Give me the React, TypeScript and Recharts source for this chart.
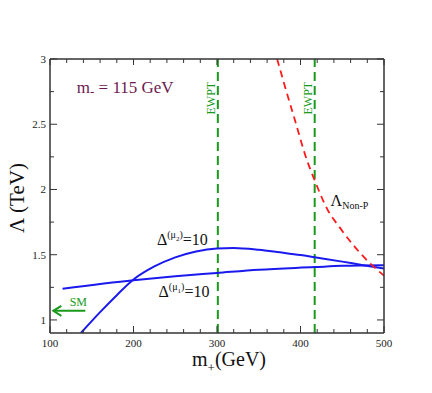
import { ComposedChart, Line, XAxis, YAxis, ReferenceLine, ReferenceDot } from "recharts";

// axis ticks
const xTicks = [100, 120, 140, 160, 180, 200, 220, 240, 260, 280, 300, 320, 340, 360, 380, 400, 420, 440, 460, 480, 500];
const xMajors = [100, 200, 300, 400, 500];
const yTicks = [1, 1.25, 1.5, 1.75, 2, 2.25, 2.5, 2.75, 3];
const yMajors = [1, 1.5, 2, 2.5, 3];

// Delta^(mu1) = 10
const deltaMu1 = [
  { x: 115, y: 1.24 },
  { x: 200, y: 1.305 },
  { x: 250, y: 1.335 },
  { x: 300, y: 1.36 },
  { x: 350, y: 1.385 },
  { x: 417, y: 1.405 },
  { x: 450, y: 1.415 },
  { x: 500, y: 1.42 },
];

// Delta^(mu2) = 10
const deltaMu2 = [
  { x: 137, y: 0.9 },
  { x: 160, y: 1.06 },
  { x: 180, y: 1.19 },
  { x: 200, y: 1.31 },
  { x: 225, y: 1.41 },
  { x: 250, y: 1.48 },
  { x: 275, y: 1.525 },
  { x: 300, y: 1.548 },
  { x: 320, y: 1.552 },
  { x: 350, y: 1.538 },
  { x: 375, y: 1.518 },
  { x: 400, y: 1.497 },
  { x: 417, y: 1.48 },
  { x: 450, y: 1.447 },
  { x: 475, y: 1.42 },
  { x: 500, y: 1.395 },
];

// Lambda Non-P
const lambdaNonP = [
  { x: 372, y: 3.0 },
  { x: 380, y: 2.82 },
  { x: 392, y: 2.56 },
  { x: 408, y: 2.22 },
  { x: 417, y: 2.07 },
  { x: 432, y: 1.85 },
  { x: 448, y: 1.7 },
  { x: 465, y: 1.56 },
  { x: 484, y: 1.43 },
  { x: 500, y: 1.34 },
];

const ewpt = [301, 417];

const FONT = "Liberation Serif, Times New Roman, serif";
const AXIS = "#333";
const GREEN = "#1a9a1a";
const BLUE = "#1a1aee";
const RED = "#ff1a1a";

const BottomTick = ({ x, y, payload }: any) => {
  const major = xMajors.includes(payload.value);
  return (
    <g>
      <line x1={x} x2={x} y1={y} y2={y - (major ? 7 : 4)} stroke={AXIS} strokeWidth={1} />
      {major && (
        <text x={x} y={y + 14} textAnchor="middle" fontSize={11} style={{ fontFamily: FONT }} fill="#222">
          {payload.value}
        </text>
      )}
    </g>
  );
};

const TopTick = ({ x, y, payload }: any) => {
  const major = xMajors.includes(payload.value);
  return <line x1={x} x2={x} y1={y} y2={y + (major ? 6 : 4)} stroke={AXIS} strokeWidth={1} />;
};

const LeftTick = ({ x, y, payload }: any) => {
  const major = yMajors.includes(payload.value);
  return (
    <g>
      <line x1={x} x2={x + (major ? 7 : 4)} y1={y} y2={y} stroke={AXIS} strokeWidth={1} />
      {major && (
        <text x={x - 4} y={y + 4} textAnchor="end" fontSize={11} style={{ fontFamily: FONT }} fill="#222">
          {payload.value}
        </text>
      )}
    </g>
  );
};

const RightTick = ({ x, y, payload }: any) => {
  const major = yMajors.includes(payload.value);
  return <line x1={x} x2={x - (major ? 7 : 4)} y1={y} y2={y} stroke={AXIS} strokeWidth={1} />;
};

const at = (render: (x: number, y: number) => any) => (p: any) => {
  const vb = p.viewBox || {};
  return render(vb.x ?? 0, vb.y ?? 0);
};

const Delta = (x: number, y: number, idx: string) => (
  <text x={x} y={y} fontSize={16} style={{ fontFamily: FONT }} fill="#111">
    Δ<tspan fontSize={10} dy={-7}>(μ</tspan>
    <tspan fontSize={7} dy={3}>{idx}</tspan>
    <tspan fontSize={10} dy={-3}>)</tspan>
    <tspan dy={7}>=10</tspan>
  </text>
);

export default function App() {
  return (
    <div style={{ position: "absolute", left: 0, top: 0, width: 432, height: 393, background: "#fff", fontFamily: FONT }}>
      <ComposedChart width={432} height={393} margin={{ top: 58, right: 47, bottom: 59, left: 49 }}>
        <XAxis
          xAxisId="b"
          type="number"
          dataKey="x"
          domain={[100, 500]}
          ticks={xTicks}
          interval={0}
          height={1}
          tickSize={0}
          tickMargin={0}
          tickLine={false}
          axisLine={{ stroke: AXIS, strokeWidth: 1.5 }}
          tick={<BottomTick />}
          allowDataOverflow
          label={at((x, y) => (
            <text x={x + 179} y={y + 33} textAnchor="middle" fontSize={20} style={{ fontFamily: FONT }} fill="#111">
              m<tspan fontSize={13} dy={6}>+</tspan>
              <tspan dy={-6}>(GeV)</tspan>
            </text>
          ))}
        />
        <XAxis
          xAxisId="t"
          orientation="top"
          type="number"
          dataKey="x"
          domain={[100, 500]}
          ticks={xTicks}
          interval={0}
          height={1}
          tickSize={0}
          tickMargin={0}
          tickLine={false}
          axisLine={{ stroke: AXIS, strokeWidth: 1.5 }}
          tick={<TopTick />}
          allowDataOverflow
        />
        <YAxis
          yAxisId="l"
          type="number"
          domain={[0.9, 3]}
          ticks={yTicks}
          interval={0}
          width={1}
          tickSize={0}
          tickMargin={0}
          tickLine={false}
          axisLine={{ stroke: AXIS, strokeWidth: 1.5 }}
          tick={<LeftTick />}
          allowDataOverflow
          label={at((x, y) => (
            <text
              x={x - 32}
              y={y + 139}
              transform={`rotate(-90 ${x - 32} ${y + 139})`}
              textAnchor="middle"
              dominantBaseline="central"
              fontSize={21}
              style={{ fontFamily: FONT }}
              fill="#111"
            >
              Λ (TeV)
            </text>
          ))}
        />
        <YAxis
          yAxisId="r"
          orientation="right"
          type="number"
          domain={[0.9, 3]}
          ticks={yTicks}
          interval={0}
          width={1}
          tickSize={0}
          tickMargin={0}
          tickLine={false}
          axisLine={{ stroke: AXIS, strokeWidth: 1.5 }}
          tick={<RightTick />}
          allowDataOverflow
        />

        {ewpt.map((v) => (
          <ReferenceLine
            key={v}
            xAxisId="b"
            yAxisId="l"
            x={v}
            stroke={GREEN}
            strokeWidth={2}
            strokeDasharray="9 5"
          />
        ))}

        <Line
          xAxisId="b"
          yAxisId="l"
          data={deltaMu1}
          dataKey="y"
          type="monotone"
          stroke={BLUE}
          strokeWidth={2}
          dot={false}
          isAnimationActive={false}
        />
        <Line
          xAxisId="b"
          yAxisId="l"
          data={deltaMu2}
          dataKey="y"
          type="monotone"
          stroke={BLUE}
          strokeWidth={2}
          dot={false}
          isAnimationActive={false}
        />
        <Line
          xAxisId="b"
          yAxisId="l"
          data={lambdaNonP}
          dataKey="y"
          type="monotone"
          stroke={RED}
          strokeWidth={1.8}
          strokeDasharray="7 5"
          dot={false}
          isAnimationActive={false}
        />

        {/* annotations */}
        <ReferenceDot
          xAxisId="b"
          yAxisId="l"
          x={132}
          y={2.74}
          r={0}
          fill="none"
          stroke="none"
          label={at((x, y) => (
            <text x={x} y={y} fontSize={17} style={{ fontFamily: FONT }} fill="#6b1a52">
              m<tspan fontSize={13} dy={3}>-</tspan>
              <tspan dy={-3}> = 115 GeV</tspan>
            </text>
          ))}
        />
        <ReferenceDot
          xAxisId="b"
          yAxisId="l"
          x={228}
          y={1.575}
          r={0}
          fill="none"
          stroke="none"
          label={at((x, y) => Delta(x, y, "2"))}
        />
        <ReferenceDot
          xAxisId="b"
          yAxisId="l"
          x={230}
          y={1.175}
          r={0}
          fill="none"
          stroke="none"
          label={at((x, y) => Delta(x, y, "1"))}
        />
        <ReferenceDot
          xAxisId="b"
          yAxisId="l"
          x={436}
          y={1.87}
          r={0}
          fill="none"
          stroke="none"
          label={at((x, y) => (
            <text x={x} y={y} fontSize={16} style={{ fontFamily: FONT }} fill="#111">
              Λ<tspan fontSize={10} dy={3}>Non-P</tspan>
            </text>
          ))}
        />
        {ewpt.map((v) => (
          <ReferenceDot
            key={"t" + v}
            xAxisId="b"
            yAxisId="l"
            x={v}
            y={2.7}
            r={0}
            fill="none"
            stroke="none"
            label={at((x, y) => (
              <text
                x={x - 2.5}
                y={y}
                transform={`rotate(-90 ${x - 2.5} ${y})`}
                textAnchor="middle"
                fontSize={12}
                style={{ fontFamily: FONT }}
                fill={GREEN}
              >
                EWPT
              </text>
            ))}
          />
        ))}
        <ReferenceDot
          xAxisId="b"
          yAxisId="l"
          x={104}
          y={1.07}
          r={0}
          fill="none"
          stroke="none"
          label={at((x, y) => (
            <g>
              <line x1={x} x2={x + 32} y1={y} y2={y} stroke={GREEN} strokeWidth={2} />
              <path d={`M${x + 8} ${y - 5} L${x} ${y} L${x + 8} ${y + 5}`} fill="none" stroke={GREEN} strokeWidth={2} />
              <text x={x + 25} y={y - 5} textAnchor="middle" fontSize={12} style={{ fontFamily: FONT }} fill={GREEN}>
                SM
              </text>
            </g>
          ))}
        />
      </ComposedChart>
    </div>
  );
}
